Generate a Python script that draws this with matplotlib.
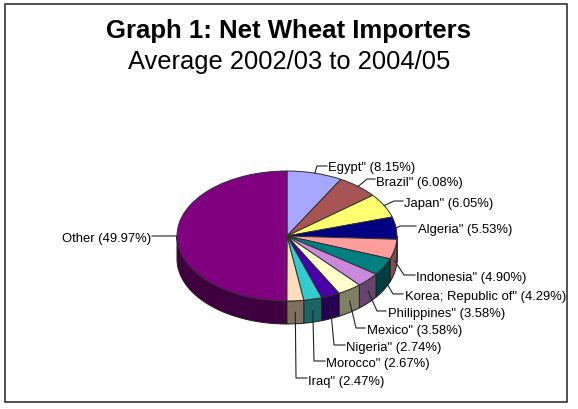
import numpy as np
import matplotlib
matplotlib.use('Agg')
import matplotlib.pyplot as plt
from matplotlib.patches import Rectangle

plt.rcParams['font.family'] = ['Liberation Sans', 'DejaVu Sans']

countries = ['Egypt"', 'Brazil"', 'Japan"', 'Algeria"', 'Indonesia"', 'Korea; Republic of"',
             'Philippines"', 'Mexico"', 'Nigeria"', 'Morocco"', 'Iraq"', 'Other']
shares = [8.15, 6.08, 6.05, 5.53, 4.90, 4.29, 3.58, 3.58, 2.74, 2.67, 2.47, 49.97]
colors = ['#A6A6FF', '#A85454', '#FFFF70', '#000080', '#FF9C9C', '#008080',
          '#CC88DD', '#FFFFCC', '#4A00A8', '#33CCCC', '#FFDDBB', '#800080']

W, H = 578, 410
cx, cy = 287, 237     # pie centre in pixels
rx, ry = 110, 65      # ellipse radii
depth = 23

# label placement: text start, elbow, text side end of the leader
label_xy = [(328, 168), (376, 183), (404, 204), (418, 230), (416, 278), (405, 297),
            (388, 314), (367, 331), (346, 348), (326, 364), (308, 382), (151, 239)]
elbows = [(317, 167), (367, 180), (394, 202), (400, 227), (404, 276), (393, 295),
          (377, 312), (356, 329), (334, 346), (314, 362), (296, 379), (160, 237)]
ends = [(327, 167), (375, 180), (403, 202), (416, 227), (415, 276), (403, 295),
        (386, 312), (365, 329), (345, 346), (325, 362), (307, 379), (152, 237)]

fig = plt.figure(figsize=(W / 100, H / 100), dpi=100)
ax = fig.add_axes([0, 0, 1, 1])

# sides first, only the part of each slice on the front of the pie
vals = np.array(shares)
edges = np.concatenate([[0], np.cumsum(vals) / vals.sum() * 2 * np.pi])
for i in range(len(vals)):
    a0 = max(edges[i], np.pi / 2)
    a1 = min(edges[i + 1], 3 * np.pi / 2)
    if a1 <= a0:
        continue
    t = np.linspace(a0, a1, 60)
    xs = np.sin(t)
    ys = np.cos(t)
    d = depth / ry
    px = np.concatenate([xs, xs[::-1]])
    py = np.concatenate([ys, ys[::-1] - d])
    c = np.array(matplotlib.colors.to_rgb(colors[i])) * 0.5
    ax.fill(px, py, color=c, ec='#202020', lw=0.7, zorder=1)

ax.pie(shares, colors=colors, startangle=90, counterclock=False, radius=1,
       wedgeprops=dict(edgecolor='#303030', linewidth=0.7, zorder=2))
ax.set_aspect('auto')
ax.set_xlim(-cx / rx, (W - cx) / rx)
ax.set_ylim((cy - H) / ry, cy / ry)
ax.axis('off')

# pixel overlay for labels and leaders
ov = fig.add_axes([0, 0, 1, 1])
ov.set_xlim(0, W)
ov.set_ylim(H, 0)
ov.axis('off')
ov.patch.set_alpha(0)
ov.add_patch(Rectangle((4.5, 4.5), 562.5, 398.5, fill=False, ec='#333333', lw=1.2))

ov.text(288.5, 31, 'Graph 1: Net Wheat Importers', fontsize=18.5, fontweight='bold', ha='center', va='center')
ov.text(289, 62, 'Average 2002/03 to 2004/05', fontsize=18.4, ha='center', va='center')

mids = (edges[:-1] + edges[1:]) / 2
for i, name in enumerate(countries):
    mx = cx + rx * np.sin(mids[i])
    my = cy - ry * np.cos(mids[i])
    if np.cos(mids[i]) < -0.05:
        my += depth / 2
    ov.plot([mx, elbows[i][0], ends[i][0]], [my, elbows[i][1], ends[i][1]], color='#222222', lw=0.8)
    txt = f'{name} ({shares[i]:.2f}%)'
    ha = 'right' if name == 'Other' else 'left'
    ov.text(label_xy[i][0], label_xy[i][1], txt, fontsize=9.4, ha=ha, va='center', color='black')

fig.savefig('out.png', dpi=100)
